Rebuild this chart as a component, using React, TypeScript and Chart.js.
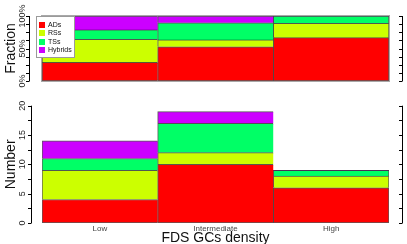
import React, { useEffect, useRef } from "react";
import { Chart, registerables } from "chart.js";
Chart.register(...registerables);

const categories = ["Low", "Intermediate", "High"];
const seriesNames = ["ADs", "RSs", "TSs", "Hybrids"];
const seriesColors = ["#FF0000", "#CCFF00", "#00FF66", "#CC00FF"];
const adCounts = [4, 10, 6];
const rsCounts = [5, 2, 2];
const tsCounts = [2, 5, 1];
const hybridCounts = [3, 2, 0];
const fractionTickValues = [0, 0.5, 1];
const fractionTickLabels = ["0%", "50%", "100%"];
const numberTickValues = [0, 5, 10, 15, 20];
const numberTickLabels = ["0", "5", "10", "15", "20"];
const xTitle = "FDS GCs density";

const allCounts = [adCounts, rsCounts, tsCounts, hybridCounts];
const totals = categories.map((_, i) => allCounts.reduce((s, a) => s + a[i], 0));
const allFractions = allCounts.map((a) => a.map((v, i) => v / totals[i]));

const FONT = "'Liberation Sans', Arial, Helvetica, sans-serif";

type PanelOpts = {
  ymax: number;
  minorStep: number;
  tickValues: number[];
  tickLabels: string[];
  leftAxisX: number;
  yTitle: string;
  frame: boolean;
  legend: boolean;
  xLabels: boolean;
  offsetY: number;
};

function makeDatasets(series: number[][]) {
  const last = categories.length - 1;
  return series.map((vals, k) => ({
    label: seriesNames[k],
    data: vals,
    backgroundColor: seriesColors[k],
    borderColor: "rgba(0,0,0,0.65)",
    borderSkipped: false as const,
    borderWidth: (ctx: any) => {
      const v = ctx.raw;
      if (!v) return 0;
      return {
        top: 1,
        left: 1,
        right: ctx.dataIndex === last ? 1 : 0,
        bottom: k === 0 ? 1 : 0,
      };
    },
    categoryPercentage: 1,
    barPercentage: 1,
  }));
}

function axesPlugin(o: PanelOpts) {
  return {
    id: "rAxes",
    afterDraw(chart: any) {
      const ctx = chart.ctx as CanvasRenderingContext2D;
      const y = chart.scales.y;
      const x = chart.scales.x;
      const area = chart.chartArea;
      ctx.save();
      if (o.frame) {
        ctx.strokeStyle = "#a8a8a8";
        ctx.lineWidth = 1;
        ctx.strokeRect(area.left - 0.5, area.top - 0.5, area.right - area.left + 1, area.bottom - area.top + 1);
      }
      ctx.strokeStyle = "#000";
      ctx.lineWidth = 1;
      // left axis
      const ax = o.leftAxisX + 0.5;
      ctx.beginPath();
      ctx.moveTo(ax, y.getPixelForValue(0));
      ctx.lineTo(ax, y.getPixelForValue(o.ymax));
      for (let v = 0; v <= o.ymax + 1e-9; v += o.minorStep) {
        const py = Math.round(y.getPixelForValue(v)) + 0.5;
        ctx.moveTo(ax - 3.5, py);
        ctx.lineTo(ax, py);
      }
      ctx.stroke();
      // right axis
      const rx = 402.5;
      ctx.beginPath();
      ctx.moveTo(rx, y.getPixelForValue(0));
      ctx.lineTo(rx, y.getPixelForValue(o.ymax));
      for (let v = 0; v <= o.ymax + 1e-9; v += o.minorStep) {
        const py = Math.round(y.getPixelForValue(v)) + 0.5;
        ctx.moveTo(rx - 3.5, py);
        ctx.lineTo(rx, py);
      }
      ctx.stroke();
      // tick labels
      ctx.fillStyle = "#222";
      ctx.font = `9px ${FONT}`;
      ctx.textAlign = "center";
      ctx.textBaseline = "middle";
      o.tickValues.forEach((v, i) => {
        ctx.save();
        ctx.translate(23, y.getPixelForValue(v));
        ctx.rotate(-Math.PI / 2);
        ctx.fillText(o.tickLabels[i], 0, 0);
        ctx.restore();
      });
      // y title
      ctx.fillStyle = "#111";
      ctx.font = `14px ${FONT}`;
      ctx.save();
      ctx.translate(11, (area.top + area.bottom) / 2);
      ctx.rotate(-Math.PI / 2);
      ctx.fillText(o.yTitle, 0, 0);
      ctx.restore();
      // legend
      if (o.legend) {
        ctx.fillStyle = "#fff";
        ctx.fillRect(36, 16, 38, 41);
        ctx.strokeStyle = "#9a9a9a";
        ctx.strokeRect(36.5, 16.5, 38, 41);
        ctx.font = `7px ${FONT}`;
        ctx.textAlign = "left";
        ctx.textBaseline = "middle";
        seriesNames.forEach((n, k) => {
          const cy = 25 + k * 8.3;
          ctx.fillStyle = seriesColors[k];
          ctx.fillRect(39, Math.round(cy - 3), 6, 6);
          ctx.fillStyle = "#111";
          ctx.fillText(n, 48, cy);
        });
      }
      // x labels
      if (o.xLabels) {
        ctx.fillStyle = "#444";
        ctx.font = `8px ${FONT}`;
        ctx.textAlign = "center";
        ctx.textBaseline = "middle";
        categories.forEach((c, i) => {
          ctx.fillText(c, x.getPixelForValue(i), 229 - o.offsetY);
        });
        ctx.fillStyle = "#111";
        ctx.font = `14px ${FONT}`;
        ctx.textBaseline = "alphabetic";
        ctx.fillText(xTitle, (area.left + area.right) / 2, 242 - o.offsetY);
      }
      ctx.restore();
    },
  };
}

function Panel(props: { series: number[][]; opts: PanelOpts; height: number; padding: any }) {
  const ref = useRef<HTMLCanvasElement>(null);
  useEffect(() => {
    if (!ref.current) return;
    const chart = new Chart(ref.current, {
      type: "bar",
      data: { labels: categories, datasets: makeDatasets(props.series) as any },
      options: {
        responsive: false,
        animation: false,
        devicePixelRatio: 1,
        layout: { padding: props.padding },
        plugins: { legend: { display: false }, tooltip: { enabled: false } },
        scales: {
          x: { display: false, stacked: true },
          y: { display: false, stacked: true, min: 0, max: props.opts.ymax },
        },
      },
      plugins: [axesPlugin(props.opts)],
    });
    return () => chart.destroy();
  }, []);
  return (
    <canvas
      ref={ref}
      width={407}
      height={props.height}
      style={{ position: "absolute", left: 0, top: props.opts.offsetY, width: 407, height: props.height }}
    />
  );
}

export default function App() {
  return (
    <div style={{ position: "absolute", left: 0, top: 0, width: 407, height: 244, background: "#fff" }}>
      <Panel
        series={allFractions}
        height={90}
        padding={{ left: 42, right: 18, top: 16, bottom: 9 }}
        opts={{
          ymax: 1,
          minorStep: 0.125,
          tickValues: fractionTickValues,
          tickLabels: fractionTickLabels,
          leftAxisX: 29,
          yTitle: "Fraction",
          frame: true,
          legend: true,
          xLabels: false,
          offsetY: 0,
        }}
      />
      <Panel
        series={allCounts}
        height={154}
        padding={{ left: 42, right: 18, top: 15.7, bottom: 21 }}
        opts={{
          ymax: 20,
          minorStep: 2.5,
          tickValues: numberTickValues,
          tickLabels: numberTickLabels,
          leftAxisX: 31,
          yTitle: "Number",
          frame: false,
          legend: false,
          xLabels: true,
          offsetY: 90,
        }}
      />
    </div>
  );
}
